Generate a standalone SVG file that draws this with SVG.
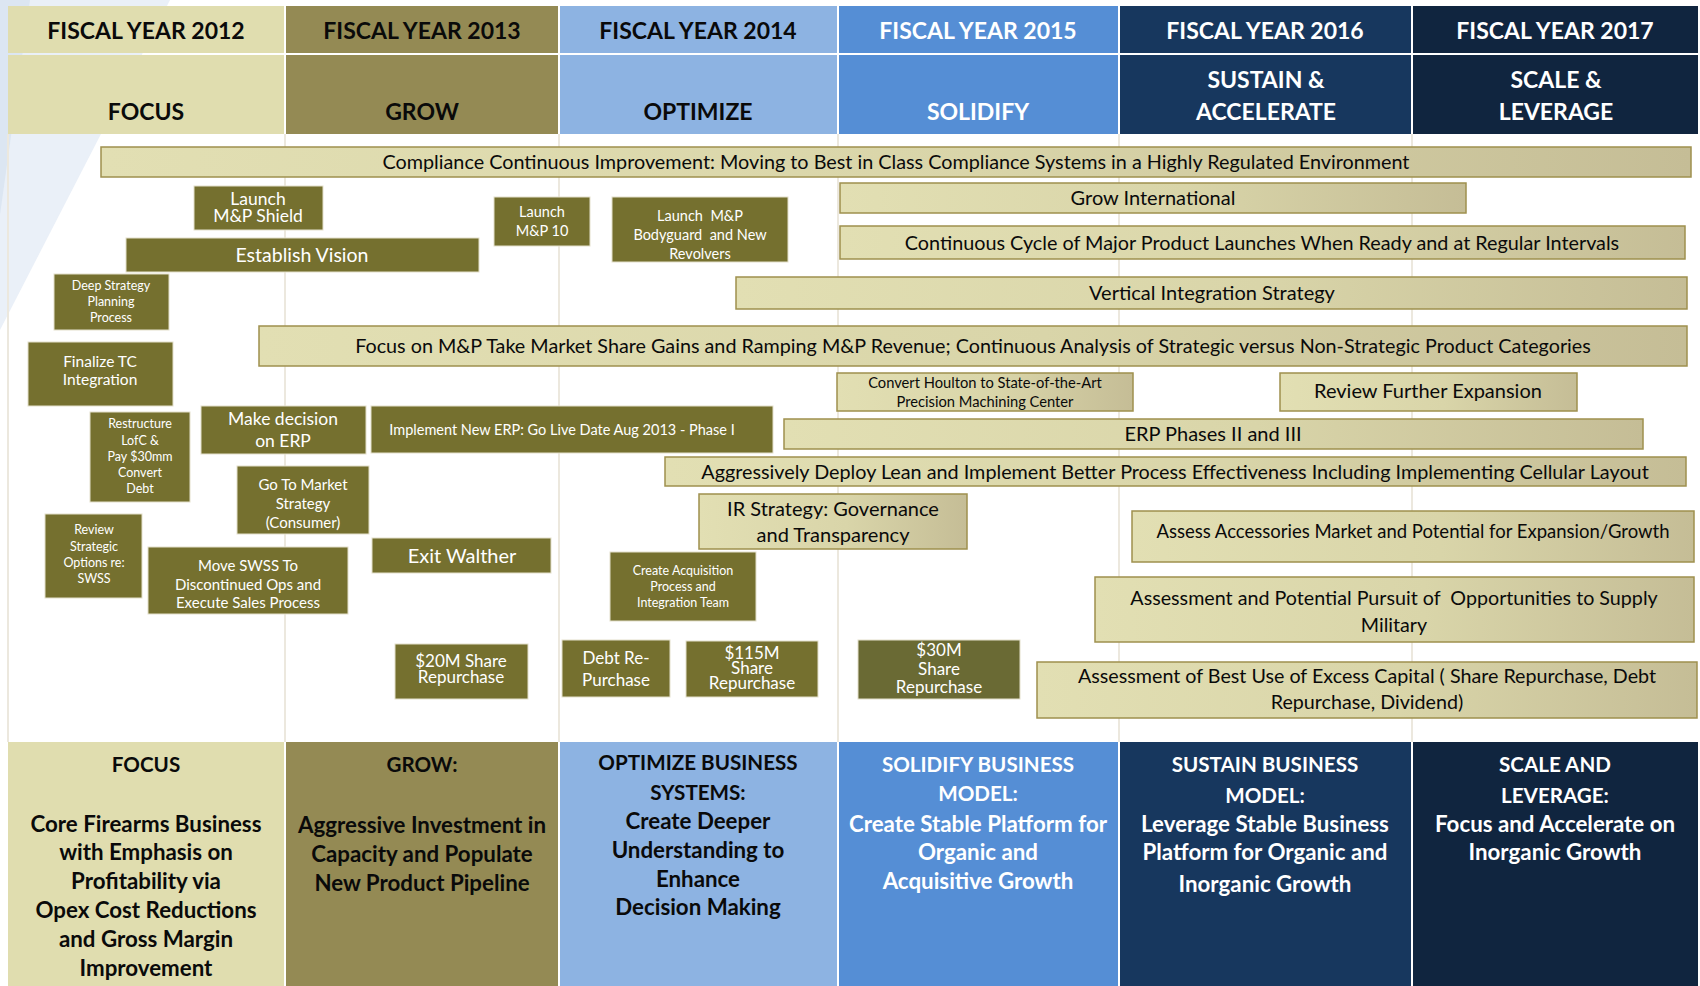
<svg xmlns="http://www.w3.org/2000/svg" width="1700" height="986" viewBox="0 0 1700 986">
<defs>
<linearGradient id="kh" x1="0" y1="0" x2="1" y2="0">
<stop offset="0" stop-color="#E2DFB3"/>
<stop offset="0.55" stop-color="#D9D5A9"/>
<stop offset="1" stop-color="#C5BD96"/>
</linearGradient>
<style>
text{font-family:Lato,"Liberation Sans",sans-serif;text-anchor:middle}
.hd{font-weight:700;font-size:23px}
.bt{font-weight:700;font-size:22.3px}
.cap{font-size:20.6px}
.w{fill:#FFFFFF}
.b{fill:#0A0A0A}
.ob{fill:#75702F;stroke:#E4E0CC;stroke-width:1}
.ob2{fill:#6A6A34;stroke:#E4E0CC;stroke-width:1}
.kb{fill:url(#kh);stroke:#9E904E;stroke-width:1.5}
.grid{stroke:#ECE8DE;stroke-width:2}
.c1{fill:#E0DDAF}.c2{fill:#948A54}.c3{fill:#8DB3E2}.c4{fill:#558ED5}.c5{fill:#17375E}.c6{fill:#10253F}
</style>
</defs>
<rect x="0" y="0" width="1700" height="986" fill="#FFFFFF"/>
<g id="background">
<polygon points="0,0 170,0 0,330" fill="#EAF0F8"/>
<polygon points="0,0 30,0 0,215" fill="#DCE6F2"/>
<line class="grid" x1="8" y1="134" x2="8" y2="742"/>
<line class="grid" x1="285" y1="134" x2="285" y2="742"/>
<line class="grid" x1="559" y1="134" x2="559" y2="742"/>
<line class="grid" x1="838" y1="134" x2="838" y2="742"/>
<line class="grid" x1="1119" y1="134" x2="1119" y2="742"/>
<line class="grid" x1="1412" y1="134" x2="1412" y2="742"/>
</g>
<g id="header">
<g id="h2012"><rect class="c1" x="8" y="6" width="276" height="47"/><rect class="c1" x="8" y="55" width="276" height="79"/>
<text class="hd b" x="146" y="39">FISCAL YEAR 2012</text><text class="hd b" x="146" y="120">FOCUS</text></g>
<g id="h2013"><rect class="c2" x="286" y="6" width="272" height="47"/><rect class="c2" x="286" y="55" width="272" height="79"/>
<text class="hd b" x="422" y="39">FISCAL YEAR 2013</text><text class="hd b" x="422" y="120">GROW</text></g>
<g id="h2014"><rect class="c3" x="560" y="6" width="277" height="47"/><rect class="c3" x="560" y="55" width="277" height="79"/>
<text class="hd b" x="698" y="39">FISCAL YEAR 2014</text><text class="hd b" x="698" y="120">OPTIMIZE</text></g>
<g id="h2015"><rect class="c4" x="839" y="6" width="279" height="47"/><rect class="c4" x="839" y="55" width="279" height="79"/>
<text class="hd w" x="978" y="39">FISCAL YEAR 2015</text><text class="hd w" x="978" y="120">SOLIDIFY</text></g>
<g id="h2016"><rect class="c5" x="1120" y="6" width="291" height="47"/><rect class="c5" x="1120" y="55" width="291" height="79"/>
<text class="hd w" x="1265" y="39">FISCAL YEAR 2016</text><text class="hd w" x="1266" y="88">SUSTAIN &amp;</text><text class="hd w" x="1266" y="120">ACCELERATE</text></g>
<g id="h2017"><rect class="c6" x="1413" y="6" width="285" height="47"/><rect class="c6" x="1413" y="55" width="285" height="79"/>
<text class="hd w" x="1555" y="39">FISCAL YEAR 2017</text><text class="hd w" x="1556" y="88">SCALE &amp;</text><text class="hd w" x="1556" y="120">LEVERAGE</text></g>
</g>
<g id="initiatives">
<g id="compliance"><rect class="kb" x="101" y="147" width="1590" height="30"/><text class="b" x="896" y="169" font-size="19.8">Compliance Continuous Improvement: Moving to Best in Class Compliance Systems in a Highly Regulated Environment</text></g>
<g id="grow-intl"><rect class="kb" x="840" y="183" width="626" height="30"/><text class="b" x="1153" y="205" font-size="20">Grow International</text></g>
<g id="product-launches"><rect class="kb" x="840" y="226" width="845" height="33"/><text class="b" x="1262" y="250" font-size="19.8">Continuous Cycle of Major Product Launches When Ready and at Regular Intervals</text></g>
<g id="vertical-integration"><rect class="kb" x="736" y="277" width="951" height="32"/><text class="b" x="1212" y="300" font-size="20">Vertical Integration Strategy</text></g>
<g id="focus-mp"><rect class="kb" x="259" y="326" width="1428" height="40"/><text class="b" x="973" y="353" font-size="19.75">Focus on M&amp;P Take Market Share Gains and Ramping M&amp;P Revenue; Continuous Analysis of Strategic versus Non-Strategic Product Categories</text></g>
<g id="houlton"><rect class="kb" x="837" y="373" width="296" height="38"/><text class="b" font-size="14.7"><tspan x="985" y="388">Convert Houlton to State-of-the-Art</tspan><tspan x="985" y="407">Precision Machining Center</tspan></text></g>
<g id="review-expansion"><rect class="kb" x="1280" y="373" width="297" height="38"/><text class="b" x="1428" y="398" font-size="20">Review Further Expansion</text></g>
<g id="erp-2-3"><rect class="kb" x="784" y="419" width="859" height="30"/><text class="b" x="1213" y="441" font-size="20">ERP Phases II and III</text></g>
<g id="lean"><rect class="kb" x="665" y="457" width="1021" height="29"/><text class="b" x="1175" y="479" font-size="19.8">Aggressively Deploy Lean and Implement Better Process Effectiveness Including Implementing Cellular Layout</text></g>
<g id="ir-strategy"><rect class="kb" x="699" y="494" width="268" height="55"/><text class="b" font-size="20"><tspan x="833" y="516">IR Strategy: Governance</tspan><tspan x="833" y="542">and Transparency</tspan></text></g>
<g id="accessories"><rect class="kb" x="1132" y="511" width="562" height="51"/><text class="b" x="1413" y="538" font-size="18.5">Assess Accessories Market and Potential for Expansion/Growth</text></g>
<g id="military"><rect class="kb" x="1095" y="577" width="599" height="65"/><text class="b" font-size="19.7" xml:space="preserve"><tspan x="1394" y="605">Assessment and Potential Pursuit of  Opportunities to Supply</tspan><tspan x="1394" y="632">Military</tspan></text></g>
<g id="excess-capital"><rect class="kb" x="1037" y="662" width="660" height="56"/><text class="b" font-size="19.7"><tspan x="1367" y="683">Assessment of Best Use of Excess Capital ( Share Repurchase, Debt</tspan><tspan x="1367" y="709">Repurchase, Dividend)</tspan></text></g>
</g>
<g id="milestones">
<g id="mp-shield"><rect class="ob" x="194" y="186" width="129" height="44"/><text class="w" font-size="17.5"><tspan x="258" y="205">Launch</tspan><tspan x="258" y="222">M&amp;P Shield</tspan></text></g>
<g id="establish-vision"><rect class="ob" x="126" y="238" width="353" height="34"/><text class="w" x="302" y="262" font-size="19.5">Establish Vision</text></g>
<g id="deep-strategy"><rect class="ob" x="54" y="274" width="115" height="56"/><text class="w" font-size="12.5"><tspan x="111" y="290">Deep Strategy</tspan><tspan x="111" y="306">Planning</tspan><tspan x="111" y="322">Process</tspan></text></g>
<g id="finalize-tc"><rect class="ob" x="28" y="342" width="145" height="64"/><text class="w" font-size="15.5"><tspan x="100" y="367">Finalize TC</tspan><tspan x="100" y="385">Integration</tspan></text></g>
<g id="restructure"><rect class="ob" x="90" y="412" width="100" height="90"/><text class="w" font-size="12.5"><tspan x="140" y="428">Restructure</tspan><tspan x="140" y="445">LofC &amp;</tspan><tspan x="140" y="461">Pay $30mm</tspan><tspan x="140" y="477">Convert</tspan><tspan x="140" y="493">Debt</tspan></text></g>
<g id="erp-decision"><rect class="ob" x="201" y="406" width="165" height="48"/><text class="w" font-size="17.5"><tspan x="283" y="425">Make decision</tspan><tspan x="283" y="447">on ERP</tspan></text></g>
<g id="erp-phase1"><rect class="ob" x="371" y="406" width="402" height="47"/><text class="w" x="562" y="435" font-size="14.5">Implement New ERP: Go Live Date Aug 2013 - Phase I</text></g>
<g id="mp10"><rect class="ob" x="494" y="197" width="96" height="49"/><text class="w" font-size="14.5"><tspan x="542" y="217">Launch</tspan><tspan x="542" y="236">M&amp;P 10</tspan></text></g>
<g id="bodyguard"><rect class="ob" x="612" y="197" width="176" height="65"/><text class="w" font-size="14.5" xml:space="preserve"><tspan x="700" y="221">Launch  M&amp;P</tspan><tspan x="700" y="240">Bodyguard  and New</tspan><tspan x="700" y="259">Revolvers</tspan></text></g>
<g id="go-to-market"><rect class="ob" x="237" y="466" width="132" height="68"/><text class="w" font-size="15"><tspan x="303" y="490">Go To Market</tspan><tspan x="303" y="509">Strategy</tspan><tspan x="303" y="528">(Consumer)</tspan></text></g>
<g id="review-swss"><rect class="ob" x="45" y="514" width="97" height="84"/><text class="w" font-size="12.5"><tspan x="94" y="534">Review</tspan><tspan x="94" y="551">Strategic</tspan><tspan x="94" y="567">Options re:</tspan><tspan x="94" y="583">SWSS</tspan></text></g>
<g id="move-swss"><rect class="ob" x="148" y="547" width="200" height="67"/><text class="w" font-size="15"><tspan x="248" y="571">Move SWSS To</tspan><tspan x="248" y="590">Discontinued Ops and</tspan><tspan x="248" y="608">Execute Sales Process</tspan></text></g>
<g id="exit-walther"><rect class="ob" x="372" y="538" width="179" height="35"/><text class="w" x="462" y="563" font-size="20">Exit Walther</text></g>
<g id="share-20m"><rect class="ob" x="395" y="644" width="133" height="55"/><text class="w" font-size="17"><tspan x="461" y="667">$20M Share</tspan><tspan x="461" y="683">Repurchase</tspan></text></g>
<g id="acquisition-team"><rect class="ob" x="610" y="552" width="146" height="69"/><text class="w" font-size="12.5"><tspan x="683" y="575">Create Acquisition</tspan><tspan x="683" y="591">Process and</tspan><tspan x="683" y="607">Integration Team</tspan></text></g>
<g id="debt-repurchase"><rect class="ob" x="562" y="640" width="108" height="57"/><text class="w" font-size="17"><tspan x="616" y="664">Debt Re-</tspan><tspan x="616" y="686">Purchase</tspan></text></g>
<g id="share-115m"><rect class="ob" x="686" y="641" width="132" height="56"/><text class="w" font-size="17"><tspan x="752" y="659">$115M</tspan><tspan x="752" y="674">Share</tspan><tspan x="752" y="689">Repurchase</tspan></text></g>
<g id="share-30m"><rect class="ob2" x="858" y="640" width="162" height="59"/><text class="w" font-size="17"><tspan x="939" y="656">$30M</tspan><tspan x="939" y="675">Share</tspan><tspan x="939" y="693">Repurchase</tspan></text></g>
</g>
<g id="themes">
<g id="t2012"><rect class="c1" x="8" y="742" width="276" height="244"/><text class="bt b"><tspan class="cap" x="146" y="772">FOCUS</tspan><tspan x="146" y="832">Core Firearms Business</tspan><tspan x="146" y="860">with Emphasis on</tspan><tspan x="146" y="889">Profitability via</tspan><tspan x="146" y="918">Opex Cost Reductions</tspan><tspan x="146" y="947">and Gross Margin</tspan><tspan x="146" y="976">Improvement</tspan></text></g>
<g id="t2013"><rect class="c2" x="286" y="742" width="272" height="244"/><text class="bt b"><tspan class="cap" x="422" y="772">GROW:</tspan><tspan x="422" y="833">Aggressive Investment in</tspan><tspan x="422" y="862">Capacity and Populate</tspan><tspan x="422" y="891">New Product Pipeline</tspan></text></g>
<g id="t2014"><rect class="c3" x="560" y="742" width="277" height="244"/><text class="bt b"><tspan class="cap" x="698" y="770">OPTIMIZE BUSINESS</tspan><tspan class="cap" x="698" y="800">SYSTEMS:</tspan><tspan x="698" y="829">Create Deeper</tspan><tspan x="698" y="858">Understanding to</tspan><tspan x="698" y="887">Enhance</tspan><tspan x="698" y="915">Decision Making</tspan></text></g>
<g id="t2015"><rect class="c4" x="839" y="742" width="279" height="244"/><text class="bt w"><tspan class="cap" x="978" y="772">SOLIDIFY BUSINESS</tspan><tspan class="cap" x="978" y="801">MODEL:</tspan><tspan x="978" y="832">Create Stable Platform for</tspan><tspan x="978" y="860">Organic and</tspan><tspan x="978" y="889">Acquisitive Growth</tspan></text></g>
<g id="t2016"><rect class="c5" x="1120" y="742" width="291" height="244"/><text class="bt w"><tspan class="cap" x="1265" y="772">SUSTAIN BUSINESS</tspan><tspan class="cap" x="1265" y="803">MODEL:</tspan><tspan x="1265" y="832">Leverage Stable Business</tspan><tspan x="1265" y="860">Platform for Organic and</tspan><tspan x="1265" y="892">Inorganic Growth</tspan></text></g>
<g id="t2017"><rect class="c6" x="1413" y="742" width="285" height="244"/><text class="bt w"><tspan class="cap" x="1555" y="772">SCALE AND</tspan><tspan class="cap" x="1555" y="803">LEVERAGE:</tspan><tspan x="1555" y="832">Focus and Accelerate on</tspan><tspan x="1555" y="860">Inorganic Growth</tspan></text></g>
</g>
</svg>
